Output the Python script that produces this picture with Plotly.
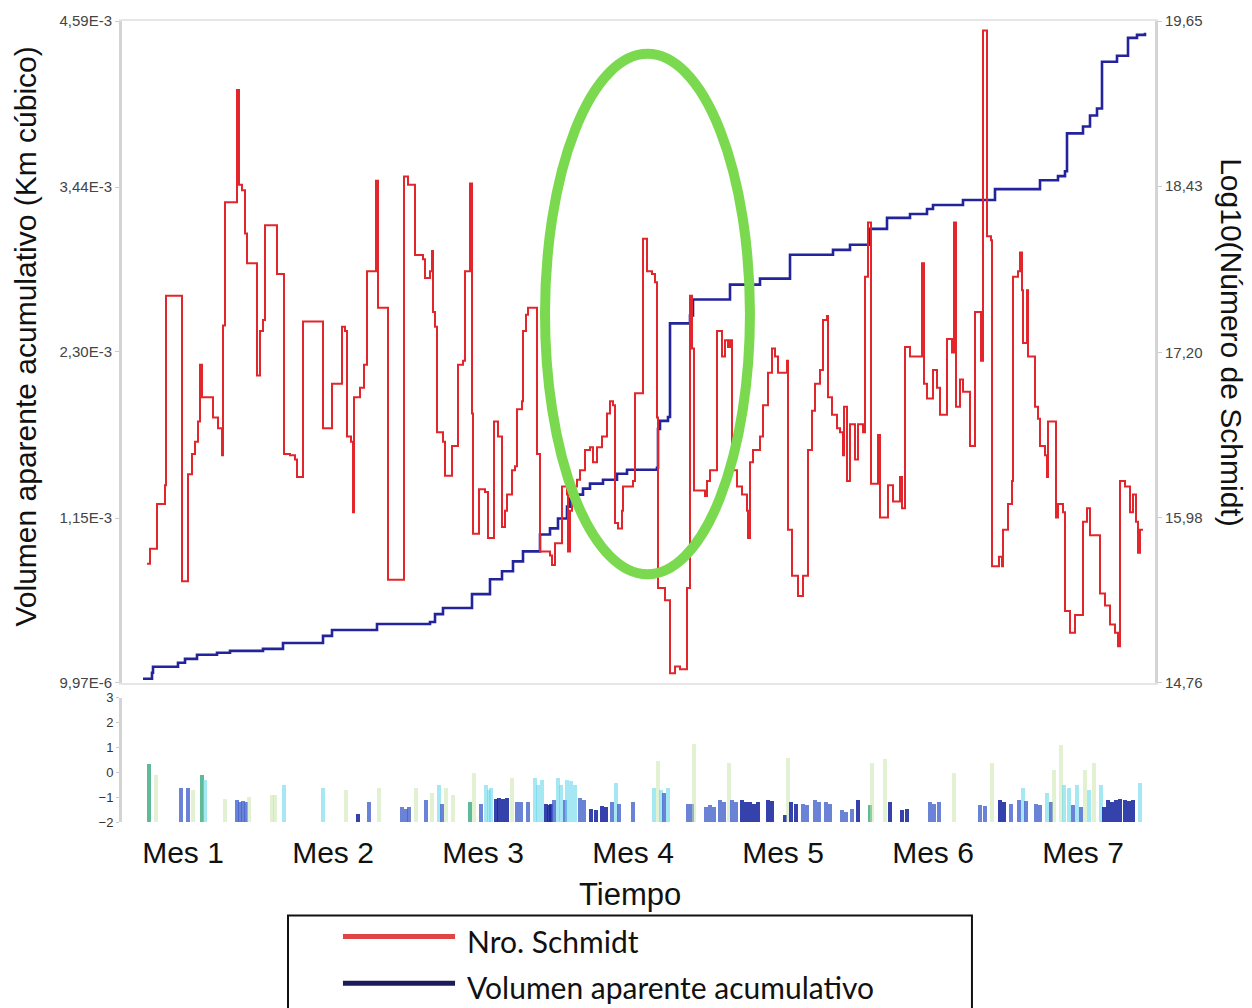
import plotly.graph_objects as go
import numpy as np

# ---------------- DATA ----------------
# Log10(Número de Schmidt) -- serie escalonada (día, valor)
schmidt_dias = [7.8, 8.4, 9.8, 11.4, 11.6, 14.8, 16.0, 16.8, 17.4, 18.0, 18.4, 18.8, 21.0, 22.0, 22.8,
                23.0, 23.4, 25.8, 26.2, 26.8, 27.4, 27.8, 29.8, 30.4, 31.0, 31.4, 33.8, 35.2, 36.4, 37.4,
                37.8, 39.0, 43.0, 44.8, 46.8, 47.4, 47.8, 48.6, 49.0, 49.2, 50.4, 51.2, 51.8, 53.6, 54.0,
                56.0, 59.2, 60.0, 61.4, 63.0, 63.4, 64.4, 64.8, 65.0, 65.4, 65.8, 67.0, 67.4, 68.8, 70.0,
                71.0, 71.4, 72.4, 72.8, 73.0, 74.2, 75.4, 76.0, 77.2, 78.0, 78.8, 79.4, 79.8, 80.8, 81.4,
                81.8, 82.8, 83.0, 83.6, 84.0, 85.8, 86.4, 88.4, 88.8, 89.4, 90.8, 91.8, 92.0, 92.4, 92.8,
                93.8, 94.4, 95.4, 96.4, 97.0, 97.8, 98.8, 99.8, 100.4, 101.0, 101.4, 102.0, 102.8, 103.0,
                105.0, 105.4, 107.0, 107.8, 108.8, 109.4, 109.8, 110.0, 111.4, 112.4, 113.4, 114.4, 115.8,
                116.4, 116.8, 117.2, 119.4, 119.8, 120.4, 121.8, 122.8, 123.4, 124.0, 124.4, 124.8, 125.8,
                126.8, 127.8, 128.0, 128.4, 129.0, 130.4, 131.0, 132.0, 132.8, 133.4, 134.0, 135.8, 136.0,
                136.8, 138.0, 139.0, 140.0, 140.8, 141.4, 142.4, 143.0, 143.8, 144.0, 144.8, 145.8, 146.4,
                147.0, 147.2, 147.8, 148.4, 149.4, 150.0, 151.0, 151.4, 152.0, 152.6, 154.0, 154.4, 156.0,
                157.0, 158.4, 158.8, 159.4, 160.4, 162.8, 163.2, 163.8, 165.0, 165.8, 166.4, 167.8, 168.8,
                169.2, 169.6, 170.4, 171.0, 172.4, 173.4, 174.6, 175.0, 175.8, 176.6, 176.8, 178.2, 178.8,
                179.0, 180.0, 180.8, 181.0, 182.0, 182.4, 182.8, 183.0, 183.8, 184.0, 185.4, 186.0, 186.4,
                187.4, 187.8, 188.0, 189.6, 190.0, 191.0, 191.4, 192.4, 193.4, 195.0, 195.8, 196.4, 198.4,
                199.4, 200.4, 201.4, 202.0, 202.4, 203.4, 204.4, 205.0, 205.6, 206.0, 206.4, 207.0]
schmidt_log = [15.64, 15.75, 16.08, 16.22, 17.62, 15.51, 16.30, 16.45, 16.54, 16.69, 17.11, 16.87, 16.72, 16.64, 16.44,
               17.40, 18.31, 19.14, 18.44, 18.40, 18.08, 17.86, 17.03, 17.36, 17.44, 18.14, 17.78, 16.45, 16.44, 16.41,
               16.28, 17.43, 16.64, 16.97, 17.39, 17.36, 16.58, 16.54, 16.02, 16.87, 16.94, 17.11, 17.80, 18.47, 17.53,
               15.52, 18.50, 18.44, 17.92, 17.89, 17.75, 17.80, 17.95, 17.50, 17.39, 16.61, 16.54, 16.29, 16.51, 17.11,
               17.14, 17.80, 18.45, 16.75, 15.86, 16.19, 16.17, 15.83, 16.69, 16.58, 15.91, 16.03, 16.15, 16.33, 16.36,
               16.78, 16.84, 17.36, 17.48, 17.53, 16.45, 15.73, 15.70, 15.63, 15.79, 16.21, 16.15, 15.73, 16.03, 16.21,
               16.26, 16.33, 16.48, 16.50, 16.39, 16.50, 16.58, 16.75, 16.84, 16.81, 15.94, 15.90, 16.03, 16.21,
               16.25, 16.90, 18.04, 17.80, 17.78, 17.72, 16.72, 15.46, 15.37, 14.83, 14.88, 14.86, 15.46,
               17.62, 17.23, 16.18, 16.14, 16.25, 16.33, 17.36, 17.17, 17.29, 17.24, 17.29, 16.33, 16.21,
               16.15, 16.03, 15.83, 16.39, 16.48, 16.58, 16.81, 17.05, 17.23, 17.17, 17.05, 17.14, 15.89,
               15.55, 15.40, 15.55, 16.48, 16.77, 16.97, 17.07, 17.44, 17.47, 16.87, 16.74, 16.64, 16.61,
               16.44, 16.80, 16.25, 16.67, 16.41, 16.67, 16.61, 17.76, 18.16, 16.23, 16.59, 15.98, 16.22,
               16.10, 16.28, 16.05, 17.24, 17.17, 17.86, 16.97, 16.86, 17.07, 16.94, 16.74, 17.30, 17.20,
               18.16, 16.80, 17.00, 16.91, 16.51, 17.50, 17.14, 19.58, 18.06, 18.03, 15.62, 15.69, 15.62,
               15.89, 16.08, 16.25, 17.76, 17.80, 17.94, 17.66, 17.27, 17.66, 17.17, 16.80, 16.71, 16.51,
               16.44, 16.28, 16.69, 15.98, 16.08, 16.02, 15.29, 15.13, 15.26, 15.95, 16.05, 15.85, 15.42,
               15.33, 15.19, 15.13, 15.03, 16.25, 16.21, 16.02, 16.15, 15.95, 15.72, 15.89, 15.89]

# Volumen aparente acumulativo (en unidades de 1E-3 km³)
vol_dias = [7.0, 8.8, 9.0, 14.0, 15.4, 17.8, 21.8, 24.4, 31.0, 35.0, 43.0, 44.8, 53.8, 64.4, 65.4,
            67.0, 72.8, 76.4, 78.8, 81.0, 83.0, 86.4, 88.4, 90.0, 91.8, 92.4, 93.8, 95.0, 96.4, 99.0,
            101.8, 103.8, 109.8, 110.0, 110.4, 112.0, 112.4, 116.4, 117.0, 124.4, 130.4, 136.4, 145.0,
            148.4, 152.4, 155.8, 160.4, 163.8, 165.0, 171.0, 177.4, 186.4, 190.0, 191.4, 191.8, 195.0,
            196.4, 197.8, 198.8, 201.8, 204.0, 205.8, 207.4]
vol_e3 = [0.037, 0.079, 0.120, 0.148, 0.175, 0.203, 0.217, 0.230, 0.244, 0.285, 0.334, 0.375, 0.416, 0.430, 0.485,
          0.527, 0.623, 0.726, 0.781, 0.850, 0.919, 1.036, 1.078, 1.147, 1.229, 1.284, 1.312, 1.353, 1.388, 1.415,
          1.456, 1.484, 1.498, 1.766, 1.822, 1.849, 2.497, 2.552, 2.662, 2.765, 2.807, 2.972, 3.006,
          3.041, 3.151, 3.227, 3.254, 3.289, 3.316, 3.351, 3.426, 3.488, 3.516, 3.550, 3.812, 3.860,
          3.936, 3.984, 4.308, 4.349, 4.473, 4.494, 4.508]

# Panel inferior (día, valor superior, clase)
b_dias = [8.2, 9.6, 14.6, 16.0, 17.0, 18.8, 19.4, 23.4, 25.8, 26.4, 27.0, 27.6, 28.2, 32.8, 33.4, 35.2,
          43.0, 47.6, 50.0, 52.2, 54.2, 58.8, 59.6, 60.2, 61.6, 63.6, 64.8, 66.2, 66.8, 67.6, 69.0, 72.4,
          73.2, 74.6, 75.6, 76.2, 76.6, 77.6, 78.2, 79.0, 79.8, 80.8, 81.8, 82.6, 84.0, 85.4, 86.0, 86.8,
          87.6, 88.2, 88.6, 89.2, 90.0, 90.6, 91.4, 91.8, 92.6, 93.4, 94.4, 95.2, 96.6, 97.6, 98.8, 99.6,
          100.8, 101.6, 102.2, 105.0, 109.2, 110.0, 110.6, 111.2, 112.0, 116.0, 116.8, 117.2, 119.6, 120.4,
          121.2, 122.4, 123.2, 124.2, 124.8, 125.6, 126.8, 127.6, 128.4, 129.2, 130.0, 132.0, 132.8, 135.4,
          136.0, 136.6, 137.6, 139.0, 139.8, 141.4, 142.2, 143.6, 144.4, 146.8, 147.6, 148.8, 150.0, 152.4,
          152.8, 155.4, 156.4, 158.8, 159.8, 164.4, 165.2, 166.2, 169.2, 174.4, 175.4, 176.8, 178.4, 179.2,
          180.6, 182.2, 183.0, 183.6, 185.6, 186.4, 187.8, 188.6, 189.2, 190.6, 191.2, 192.2, 193.0, 193.8,
          194.6, 195.4, 196.2, 197.2, 198.6, 199.2, 200.0, 200.8, 201.6, 202.4, 203.4, 204.2, 205.0, 206.4]
b_valores = [0.33, -0.1, -0.63, -0.63, -0.7, -0.08, -0.3, -1.04, -1.1, -1.2, -1.15, -1.2, -0.97, -0.9, -0.9, -0.5,
             -0.63, -0.7, -1.65, -1.18, -0.63, -1.38, -1.45, -1.4, -0.63, -1.1, -0.8, -0.5, -1.25, -0.63, -0.9, -1.2,
             -0.01, -1.25, -0.5, -0.7, -0.6, -1.04, -1.0, -1.04, -1.0, -0.2, -1.18, -1.2, -1.2, -0.2, -0.5, -0.3,
             -1.25, -1.3, -1.25, -1.1, -0.2, -0.5, -1.1, -0.3, -0.35, -0.5, -1.0, -1.1, -1.45, -1.5, -1.35, -1.4,
             -1.2, -0.4, -1.25, -1.2, -0.6, 0.47, -0.7, -0.8, -0.63, -1.25, -1.25, 1.15, -1.38, -1.3,
             -1.38, -1.1, -1.2, 0.4, -1.1, -1.2, -1.1, -1.2, -1.2, -1.25, -1.2, -1.1, -1.15, -1.7,
             0.6, -1.2, -1.25, -1.25, -1.3, -1.1, -1.2, -1.2, -1.25, -1.5, -1.6, -1.45, -1.1, -1.3,
             0.4, 0.55, -1.2, -1.5, -1.45, -1.2, -1.25, -1.2, 0.0, -1.3, -1.35, 0.4, -1.1, -1.2,
             -1.25, -1.1, -0.63, -1.15, -1.25, -1.3, -0.8, -1.2, 0.1, 1.1, -0.5, -0.6, -1.3, -0.5,
             -1.4, 0.1, -0.7, 0.4, -0.5, -1.4, -1.1, -1.2, -1.1, -1.05, -1.1, -1.15, -1.1, -0.4]
b_clase = ["verde", "tenue", "azul", "azul", "tenue", "verde", "cian", "tenue", "azul", "azul", "azul", "azul", "tenue", "tenue", "tenue", "cian",
           "cian", "tenue", "marino", "azul", "tenue", "azul", "azul", "azul", "tenue", "azul", "tenue", "cian", "azul", "tenue", "tenue", "verde",
           "tenue", "azul", "cian", "cian", "cian", "marino", "marino", "marino", "marino", "tenue", "azul", "azul", "azul", "cian", "cian", "cian",
           "marino", "marino", "marino", "azul", "cian", "cian", "azul", "cian", "cian", "cian", "azul", "azul", "marino", "marino", "marino", "marino",
           "azul", "cian", "azul", "azul", "cian", "tenue", "cian", "azul", "cian", "azul", "azul", "tenue", "azul", "azul",
           "azul", "azul", "azul", "tenue", "azul", "azul", "marino", "marino", "marino", "marino", "marino", "marino", "marino", "marino",
           "tenue", "marino", "marino", "azul", "azul", "azul", "azul", "azul", "azul", "azul", "azul", "azul", "marino", "verde",
           "tenue", "tenue", "marino", "marino", "marino", "azul", "azul", "azul", "tenue", "azul", "azul", "tenue", "marino", "marino",
           "azul", "azul", "cian", "azul", "azul", "azul", "cian", "azul", "tenue", "tenue", "cian", "cian", "azul", "cian",
           "azul", "tenue", "cian", "tenue", "cian", "marino", "marino", "marino", "marino", "marino", "marino", "marino", "marino", "cian"]

meses = ["Mes 1", "Mes 2", "Mes 3", "Mes 4", "Mes 5", "Mes 6", "Mes 7"]
mes_centros = [15, 45, 75, 105, 135, 165, 195]

vol_ticks = [9.97e-6, 1.15e-3, 2.30e-3, 3.44e-3, 4.59e-3]
vol_ticktext = ["9,97E-6", "1,15E-3", "2,30E-3", "3,44E-3", "4,59E-3"]
sch_ticks = [14.76, 15.98, 17.20, 18.43, 19.65]
sch_ticktext = ["14,76", "15,98", "17,20", "18,43", "19,65"]
b_ticks = [-2, -1, 0, 1, 2, 3]

# ---------------- FIGURE ----------------
RED = "#e3262b"
BLUE = "#23239b"
colores = {
    "verde": "rgba(55,170,125,0.8)",
    "cian": "rgba(105,215,235,0.6)",
    "azul": "rgba(70,100,205,0.8)",
    "marino": "rgba(25,40,160,0.88)",
    "tenue": "rgba(195,228,165,0.5)",
}

fig = go.Figure()

fig.add_trace(go.Scatter(
    x=vol_dias, y=np.array(vol_e3) * 1e-3, mode="lines", line_shape="hv",
    line=dict(color=BLUE, width=2.6), name="Volumen aparente acumulativo",
    xaxis="x", yaxis="y", showlegend=False))

fig.add_trace(go.Scatter(
    x=schmidt_dias, y=schmidt_log, mode="lines", line_shape="hv",
    line=dict(color=RED, width=2), name="Nro. Schmidt",
    xaxis="x", yaxis="y2", showlegend=False))

fig.add_trace(go.Bar(
    x=b_dias, y=np.array(b_valores) + 2, base=-2, width=0.7,
    marker=dict(color=[colores[c] for c in b_clase], line=dict(width=0)),
    xaxis="x2", yaxis="y3", showlegend=False))

axis_font = dict(family="Liberation Sans, Arial", size=15, color="#444444")
xr = [2.8, 209.4]
main_dom = [0.1739, 1.0]
bot_dom = [0.0, 0.1553]

fig.update_layout(
    width=1252, height=1008, autosize=False,
    margin=dict(l=122, r=97, t=17, b=186),
    paper_bgcolor="white", plot_bgcolor="white",
    bargap=0,
    xaxis=dict(domain=[0, 1], range=xr, anchor="y", showticklabels=False, ticks="",
               showgrid=False, zeroline=False, showline=True, linecolor="#e6e6e6", linewidth=2,
               mirror=True),
    yaxis=dict(domain=main_dom, range=[9.97e-6, 4.59e-3], tickvals=vol_ticks, ticktext=vol_ticktext,
               tickfont=axis_font, ticks="outside", ticklen=4, tickcolor="#cccccc",
               showgrid=False, zeroline=False, showline=True, linecolor="#d4d4d4", linewidth=3),
    yaxis2=dict(overlaying="y", anchor="x", side="right", range=[14.76, 19.65],
                tickvals=sch_ticks, ticktext=sch_ticktext, tickfont=axis_font,
                ticks="outside", ticklen=4, tickcolor="#cccccc",
                showgrid=False, zeroline=False, showline=True, linecolor="#d4d4d4", linewidth=3),
    xaxis2=dict(domain=[0, 1], range=xr, anchor="y3", matches="x",
                tickvals=mes_centros, ticktext=meses, ticks="",
                tickfont=dict(family="Liberation Sans, Arial", size=30, color="#111111"),
                ticklabelstandoff=10,
                showgrid=False, zeroline=False, showline=False),
    yaxis3=dict(domain=bot_dom, anchor="x2", range=[-2, 3], tickvals=b_ticks,
                tickfont=dict(family="Liberation Sans, Arial", size=13, color="#333333"),
                ticks="outside", ticklen=3, tickcolor="#cccccc",
                showgrid=False, zeroline=False, showline=True, linecolor="#d4d4d4", linewidth=3),
)

# Axis titles
title_font = dict(family="Liberation Sans, Arial", size=30, color="#111111")
fig.add_annotation(text="Volumen aparente acumulativo (Km cúbico)", xref="paper", yref="paper",
                   x=-0.093, y=0.606, textangle=-90, showarrow=False,
                   xanchor="center", yanchor="middle", font=title_font)
fig.add_annotation(text="Log10(Número de Schmidt)", xref="paper", yref="paper",
                   x=1.0746, y=0.599, textangle=90, showarrow=False,
                   xanchor="center", yanchor="middle", font=title_font)
fig.add_annotation(text="Tiempo", xref="paper", yref="paper", x=0.492, y=-0.0907,
                   showarrow=False, xanchor="center", yanchor="middle",
                   font=dict(family="Liberation Sans, Arial", size=31, color="#111111"))

# Green highlight ellipse
fig.add_shape(type="circle", xref="paper", yref="paper",
              x0=0.4095, x1=0.6079, y0=0.3093, y1=0.959,
              line=dict(color="#7ad94e", width=10), fillcolor="rgba(0,0,0,0)")

# Custom legend box
fig.add_shape(type="rect", xref="paper", yref="paper", x0=0.1607, x1=0.8228, y0=-0.245, y1=-0.1168,
              line=dict(color="#111111", width=2), fillcolor="white")
fig.add_shape(type="line", xref="paper", yref="paper", x0=0.2139, x1=0.3224, y0=-0.1429, y1=-0.1429,
              line=dict(color="#e04444", width=5))
fig.add_shape(type="line", xref="paper", yref="paper", x0=0.2139, x1=0.3224, y0=-0.2012, y1=-0.2012,
              line=dict(color="#1c1c5a", width=5))
legend_font = dict(family="Lato, Open Sans", size=30, color="#111111")
fig.add_annotation(text="Nro. Schmidt", xref="paper", yref="paper", x=0.332, y=-0.149,
                   showarrow=False, xanchor="left", yanchor="middle", font=legend_font)
fig.add_annotation(text="Volumen aparente acumulativo", xref="paper", yref="paper", x=0.332, y=-0.206,
                   showarrow=False, xanchor="left", yanchor="middle", font=legend_font)

fig.write_html("out.html")
